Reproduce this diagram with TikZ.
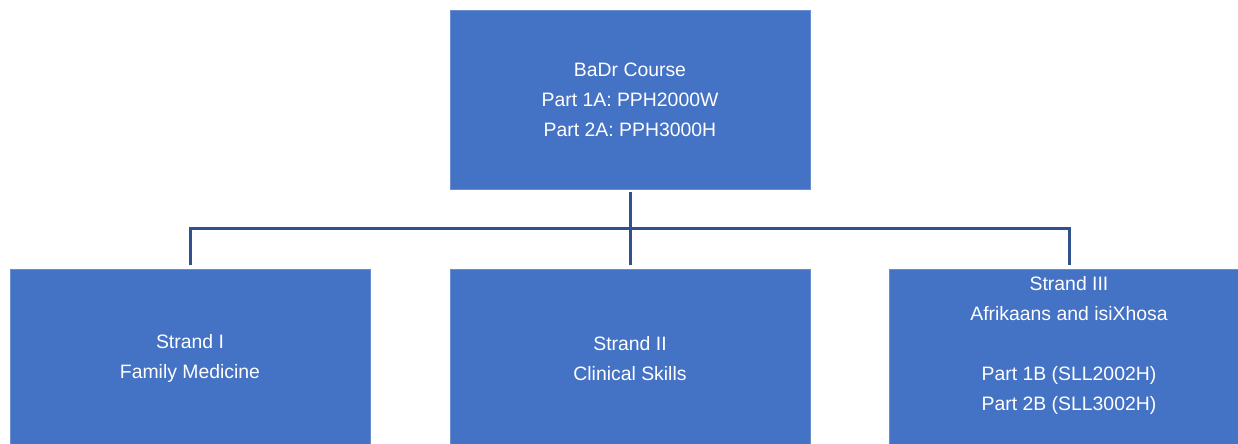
\documentclass[tikz,border=0pt]{standalone}
\usepackage{fontspec}
\setmainfont{Liberation Sans}
\definecolor{boxblue}{HTML}{4472C4}
\definecolor{linkblue}{HTML}{2F528F}

\begin{document}
\begin{tikzpicture}[x=0.5pt, y=-0.5pt,
    unit/.style={rectangle, fill=boxblue, draw=boxblue!80!white, line width=0.4pt,
        minimum width=180pt, minimum height=89.5pt, inner sep=0pt,
        text=white, align=center, font=\fontsize{9.7pt}{15pt}\selectfont},
    link/.style={draw=linkblue, line width=1.5pt}]
    \useasboundingbox (0,0) rectangle (1238,444);
    \clip (0,0) rectangle (1238,444);
    \node[unit] (course) at (630,99.5) {BaDr Course\\Part 1A: PPH2000W\\Part 2A: PPH3000H};
    \node[unit] (s1) at (190,358.5) {Strand I\\Family Medicine};
    \node[unit] (s2) at (630,358.5) {Strand II\\Clinical Skills};
    \node[unit] (s3) at (1069,358.5) {Strand III\\Afrikaans and isiXhosa\\\\Part 1B (SLL2002H)\\Part 2B (SLL3002H)\\ };
    \coordinate (bus) at (630,228.5);
    %\draw[help lines] (0,0) grid[step=50] (1238,444);
    \draw[link, shorten <=1.5pt] (course) -- (bus);
    \draw[link, shorten >=2pt] (bus) -| (s1);
    \draw[link, shorten >=2pt] (bus) -- (s2);
    \draw[link, shorten >=2pt] (bus) -| (s3);
\end{tikzpicture}
\end{document}
